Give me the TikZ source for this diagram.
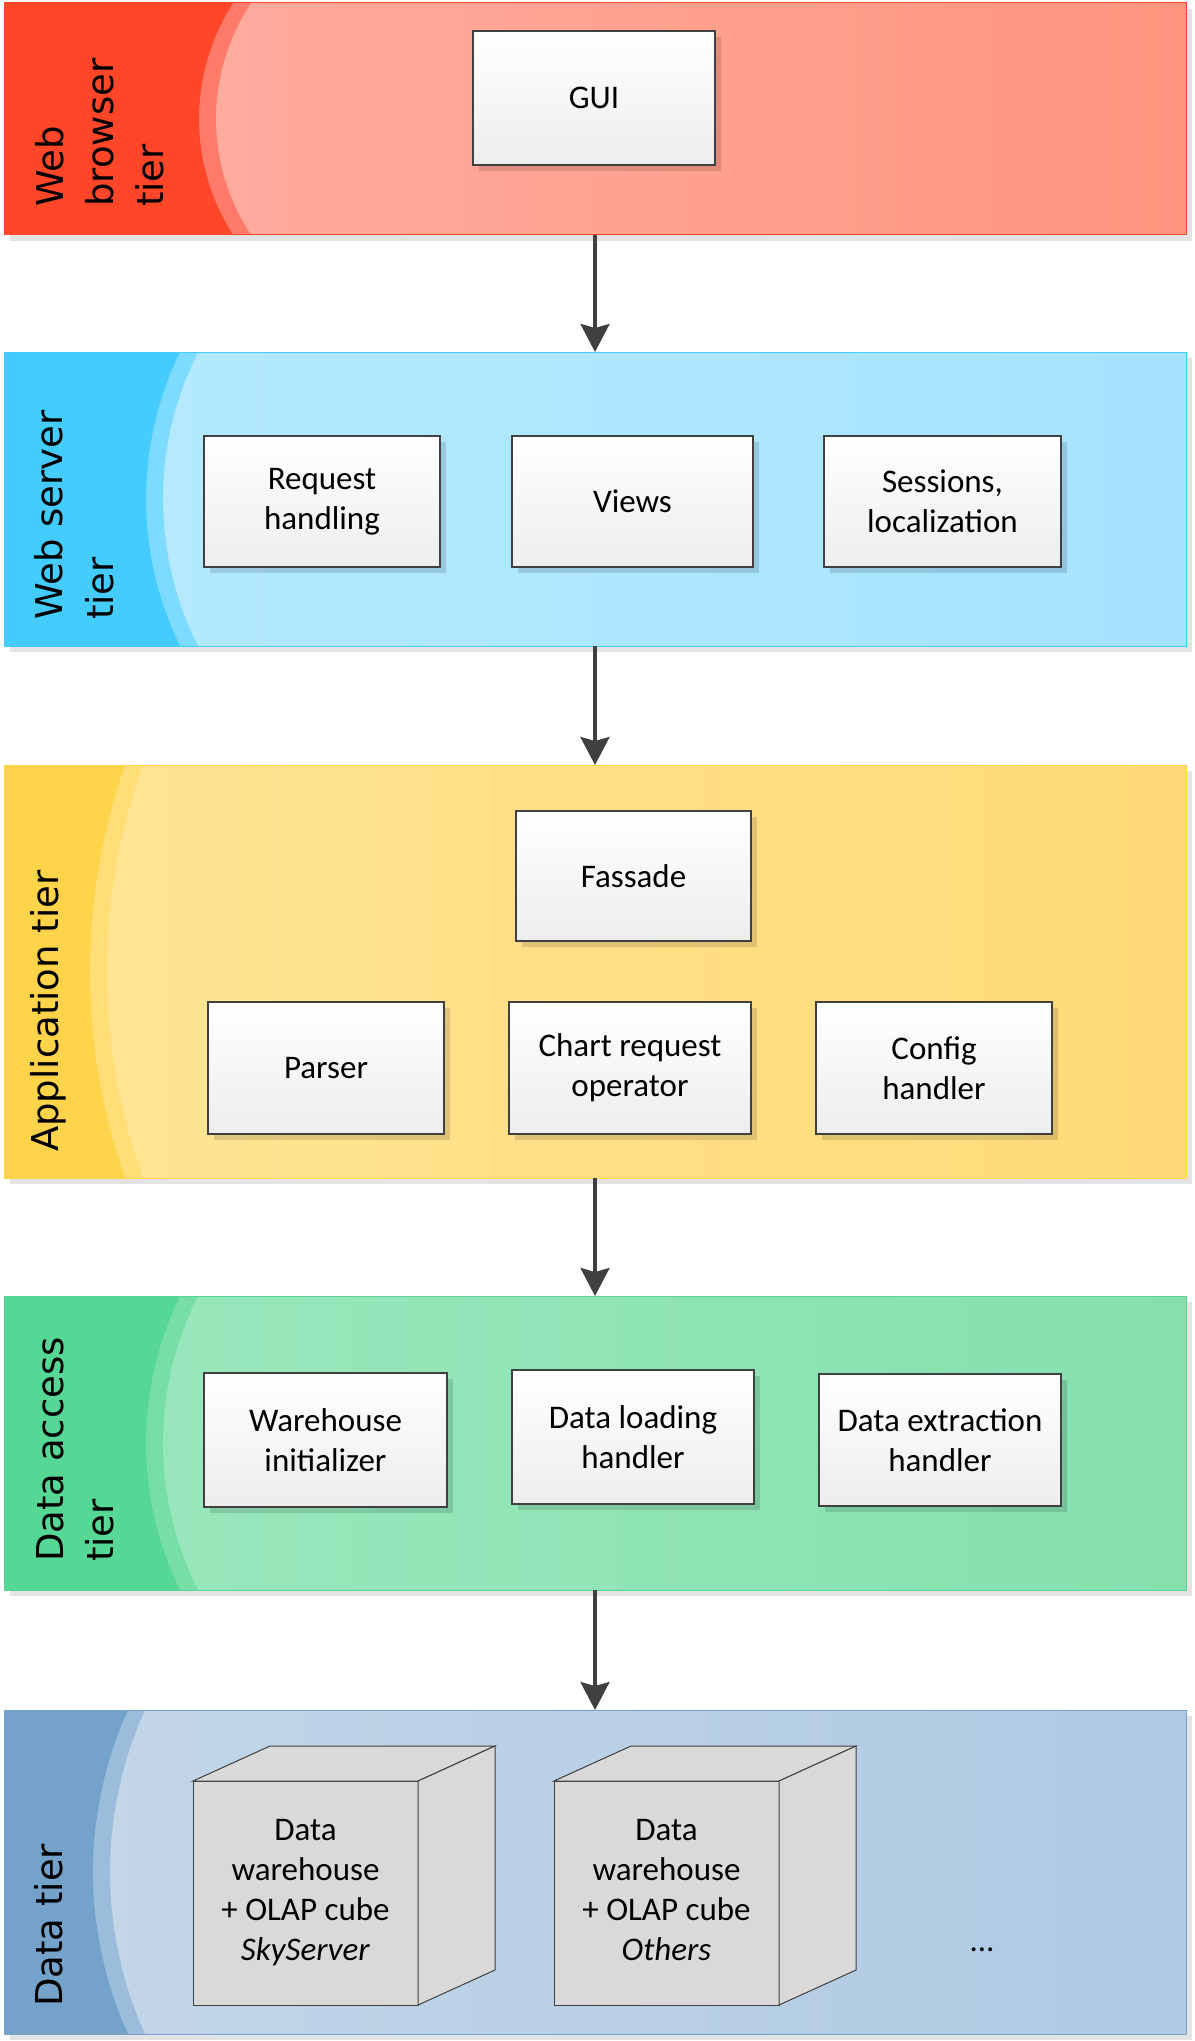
\documentclass[tikz,border=0pt]{standalone}
\usepackage{fontspec}
\newfontfamily\boxfont{Carlito}
\newfontfamily\tierfont{DejaVu Sans}
\usetikzlibrary{shadows,arrows.meta}

\definecolor{rA}{HTML}{FF4628}\definecolor{rB}{HTML}{FF7A68}\definecolor{rC}{HTML}{FFB0A4}\definecolor{rD}{HTML}{FF957F}
\definecolor{bA}{HTML}{44CCFF}\definecolor{bB}{HTML}{7CDBFF}\definecolor{bC}{HTML}{B6EAFF}\definecolor{bD}{HTML}{A6E3FF}
\definecolor{yA}{HTML}{FFD44A}\definecolor{yB}{HTML}{FFDE78}\definecolor{yC}{HTML}{FFE596}\definecolor{yD}{HTML}{FFDA76}
\definecolor{gA}{HTML}{57D795}\definecolor{gB}{HTML}{78DEA8}\definecolor{gC}{HTML}{9BE8BE}\definecolor{gD}{HTML}{85E0AE}
\definecolor{sA}{HTML}{74A2CB}\definecolor{sB}{HTML}{9BBDDB}\definecolor{sC}{HTML}{C4D7E8}\definecolor{sD}{HTML}{AFC9E3}
\definecolor{edge}{HTML}{404040}
\definecolor{cubegray}{HTML}{D9D9D9}

% band: top, bottom, x at top/bottom, a, b, colour
\newcommand\tierband[6]{%
  \fill[#6] (4,#1) -- (#3,#1) .. controls +(-#4,#5) and +(-#4,-#5) .. (#3,#2) -- (4,#2) -- cycle;}

\tikzset{
  tierbox/.style={rectangle, inner sep=0pt, outer sep=0pt, minimum width=1182pt,
    drop shadow={shadow xshift=6pt, shadow yshift=-6pt, fill=black!11, opacity=1}},
  tierlbl/.style={font=\tierfont\fontsize{37}{44}\selectfont, rotate=90, anchor=base west, inner sep=0pt},
  comp/.style={rectangle, draw=edge, line width=1.2pt, top color=white, bottom color=black!7,
    minimum width=240pt, minimum height=132pt, align=center, inner sep=0pt,
    font=\boxfont\fontsize{33}{40}\selectfont,
    drop shadow={shadow xshift=6pt, shadow yshift=-6pt, fill=black, opacity=0.13}},
  cubefront/.style={rectangle, draw=edge, line width=1pt, fill=cubegray, outer sep=0pt, inner sep=0pt,
    minimum width=225pt, minimum height=224pt, align=center,
    font=\boxfont\fontsize{33}{40}\selectfont},
  cubeface/.style={draw=edge, line width=1pt, fill=cubegray, line join=miter},
  arr/.style={draw=edge, line width=3.5pt, -{Stealth[length=28pt, width=29pt, inset=4pt]}},
}

\begin{document}
\begin{tikzpicture}[x=1pt, y=-1pt]
\useasboundingbox (0,0) rectangle (1194,2041);

% ---------- Tier 1 ----------
\node[tierbox, minimum height=232pt, left color=rC, right color=rD] (tier1) at (595,119) {};
\tierband{3}{235}{251}{46.7}{70.3}{rB}
\tierband{3}{235}{233}{45.3}{70.7}{rA}
\draw[rA, line width=1pt] (tier1.north west) rectangle (tier1.south east);
\node[tierlbl] (lb1a) at (63,207) {Web};
\node[tierlbl] (lb1b) at (113,207) {browser};
\node[tierlbl] (lb1c) at (163,207) {tier};
\node[comp, minimum width=242pt, minimum height=134pt] (gui) at (594,98) {GUI};

% ---------- Tier 2 ----------
\node[tierbox, minimum height=294pt, left color=bC, right color=bD] (tier2) at (595,499) {};
\tierband{352}{646}{198}{46.7}{92.5}{bB}
\tierband{352}{646}{180}{45.3}{92.8}{bA}
\draw[bA, line width=1pt] (tier2.north west) rectangle (tier2.south east);
\node[tierlbl] (lb2a) at (62,620) {Web server};
\node[tierlbl] (lb2b) at (113,620) {tier};
\node[comp, minimum width=236pt, minimum height=131pt] (req) at (322,501.5) {Request\\handling};
\node[comp, minimum width=241pt, minimum height=131pt] (views) at (632.5,501.5) {Views};
\node[comp, minimum width=237pt, minimum height=131pt] (sess) at (942.5,501.5) {Sessions,\\localization};

% ---------- Tier 3 ----------
\node[tierbox, minimum height=413pt, left color=yC, right color=yD] (tier3) at (595,971.5) {};
\tierband{765}{1178}{143}{48}{133.4}{yB}
\tierband{765}{1178}{125}{46.7}{133.9}{yA}
\draw[yA, line width=1pt] (tier3.north west) rectangle (tier3.south east);
\node[tierlbl] (lb3) at (58,1152) {Application tier};
\node[comp, minimum width=235pt, minimum height=130pt] (fass) at (633.5,876) {Fassade};
\node[comp, minimum width=236pt] (parser) at (326,1068) {Parser};
\node[comp, minimum width=242pt] (chart) at (630,1068) {Chart request\\operator};
\node[comp, minimum width=236pt] (config) at (934,1068) {Config\\handler};

% ---------- Tier 4 ----------
\node[tierbox, minimum height=294pt, left color=gC, right color=gD] (tier4) at (595,1443) {};
\tierband{1296}{1590}{198}{46.7}{92.5}{gB}
\tierband{1296}{1590}{180}{45.3}{92.8}{gA}
\draw[gA, line width=1pt] (tier4.north west) rectangle (tier4.south east);
\node[tierlbl] (lb4a) at (63,1562) {Data access};
\node[tierlbl] (lb4b) at (113,1562) {tier};
\node[comp, minimum width=243pt, minimum height=134pt] (wini) at (325.5,1440) {Warehouse\\initializer};
\node[comp, minimum width=242pt, minimum height=134pt] (dload) at (633,1437) {Data loading\\handler};
\node[comp, minimum width=242pt, minimum height=132pt] (dext) at (940,1440) {Data extraction\\handler};

% ---------- Tier 5 ----------
\node[tierbox, minimum height=324pt, left color=sC, right color=sD] (tier5) at (595,1872) {};
\tierband{1710}{2034}{145}{46.7}{102.9}{sB}
\tierband{1710}{2034}{128}{46.7}{102.9}{sA}
\draw[sA, line width=1pt] (tier5.north west) rectangle (tier5.south east);
\node[tierlbl] (lb5) at (62,2007) {Data tier};

\node[cubefront] (cube1) at (305.5,1893) {Data\\warehouse\\+ OLAP cube\\\textit{SkyServer}};
\draw[cubeface] (cube1.north west) -- ++(77,-35) -- ++(225,0) -- (cube1.north east) -- cycle;
\draw[cubeface] (cube1.north east) -- ++(77,-35) -- ++(0,224) -- (cube1.south east) -- cycle;

\node[cubefront] (cube2) at (666.5,1893) {Data\\warehouse\\+ OLAP cube\\\textit{Others}\vphantom{y}};
\draw[cubeface] (cube2.north west) -- ++(77,-35) -- ++(225,0) -- (cube2.north east) -- cycle;
\draw[cubeface] (cube2.north east) -- ++(77,-35) -- ++(0,224) -- (cube2.south east) -- cycle;

\node[font=\boxfont\fontsize{33}{40}\selectfont, inner sep=0pt] (more) at (982,1950) {...};

% ---------- Arrows ----------
\draw[arr] (tier1.south) -- (tier2.north);
\draw[arr] (tier2.south) -- (tier3.north);
\draw[arr] (tier3.south) -- (tier4.north);
\draw[arr] (tier4.south) -- (tier5.north);
\end{tikzpicture}
\end{document}
